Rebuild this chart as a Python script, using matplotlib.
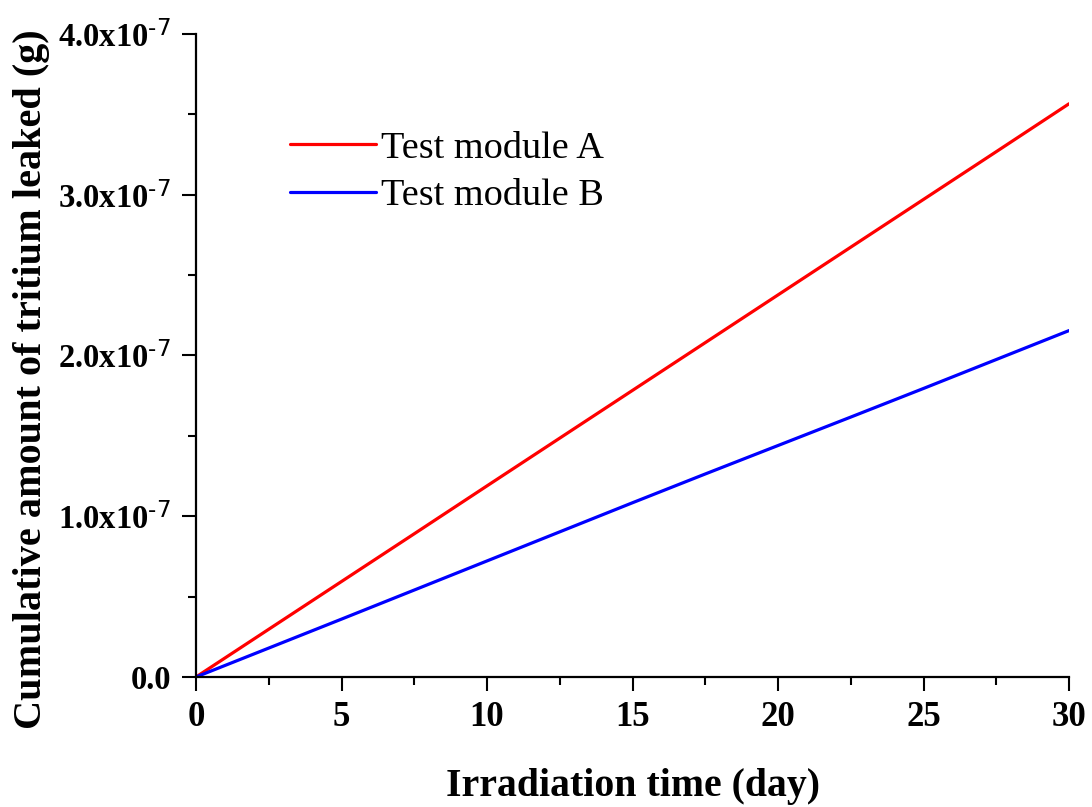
import matplotlib
matplotlib.use("Agg")
import matplotlib.pyplot as plt
from matplotlib.ticker import MultipleLocator, FuncFormatter

plt.rcParams['font.family'] = ['Liberation Serif', 'DejaVu Serif']
plt.rcParams['mathtext.default'] = 'regular'

# Irradiation time (day) and cumulative tritium leaked (g)
days = [0, 2.5, 5, 7.5, 10, 12.5, 15, 17.5, 20, 22.5, 25, 27.5, 30]
module_a = [0, 0.297e-7, 0.594e-7, 0.891e-7, 1.189e-7, 1.486e-7, 1.783e-7,
            2.080e-7, 2.377e-7, 2.674e-7, 2.971e-7, 3.268e-7, 3.566e-7]
module_b = [0, 0.180e-7, 0.360e-7, 0.541e-7, 0.722e-7, 0.903e-7, 1.084e-7,
            1.263e-7, 1.440e-7, 1.617e-7, 1.795e-7, 1.975e-7, 2.155e-7]
series_names = ["Test module A", "Test module B"]
series_colors = ["#ff0000", "#0000ff"]

fig = plt.figure(figsize=(10.92, 8.07), dpi=100)
ax = fig.add_axes([0.1795, 0.1611, 0.7995, 0.7968])

for vals, name, col in zip([module_a, module_b], series_names, series_colors):
    ax.plot(days, vals, color=col, lw=2.3, label=name, solid_capstyle='round')

ax.set_xlim(0, 30)
ax.set_ylim(0, 4.0e-7)
ax.xaxis.set_major_locator(MultipleLocator(5))
ax.xaxis.set_minor_locator(MultipleLocator(2.5))
ax.yaxis.set_major_locator(MultipleLocator(1.0e-7))
ax.yaxis.set_minor_locator(MultipleLocator(0.5e-7))


def sci_fmt(v, pos):
    if abs(v) < 1e-12:
        return "0.0"
    m = v / 1e-7
    return "%.1fx10$^{\\text{-7}}$" % m


ax.yaxis.set_major_formatter(FuncFormatter(sci_fmt))

for s in ['top', 'right']:
    ax.spines[s].set_visible(False)
for s in ['left', 'bottom']:
    ax.spines[s].set_linewidth(1.6)

ax.tick_params(which='major', direction='out', length=10, width=1.5)
ax.tick_params(which='minor', direction='out', length=5.5, width=1.5)
ax.tick_params(axis='x', which='major', pad=7)
ax.tick_params(axis='y', which='major', pad=8)

for lab in ax.get_xticklabels():
    lab.set_fontsize(25)
    lab.set_fontweight('bold')
for lab in ax.get_yticklabels():
    lab.set_fontsize(23.5)
    lab.set_fontweight('bold')

ax.set_xlabel("Irradiation time (day)", fontsize=28.6, fontweight='bold')
ax.xaxis.set_label_coords(0.5, -0.1415)
ax.set_ylabel("Cumulative amount of tritium leaked (g)", fontsize=29,
              fontweight='bold')
ax.yaxis.set_label_coords(-0.167, 0.463)

ax.legend(loc='upper left', bbox_to_anchor=(0.108, 0.849), frameon=False,
          fontsize=27.5, handlelength=2.25, handletextpad=0.12,
          labelspacing=0.33, borderpad=0.0, borderaxespad=0.0)

fig.savefig("out.png", dpi=100)
